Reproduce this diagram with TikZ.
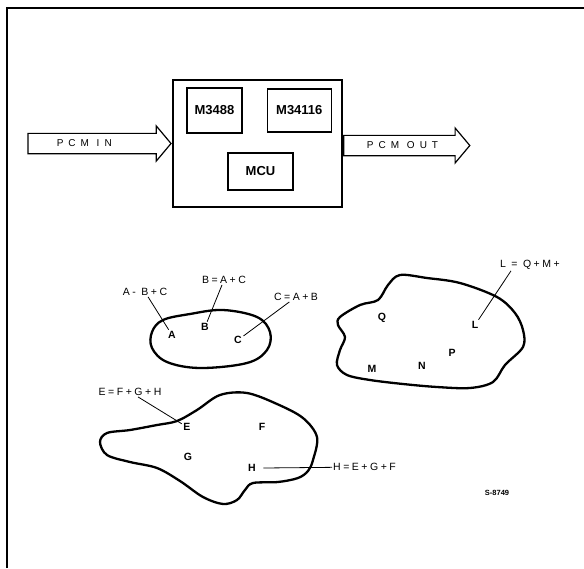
\documentclass[tikz,border=0pt]{standalone}
\usepackage{fontspec}
\setmainfont{Liberation Sans}
\usetikzlibrary{positioning,shapes.arrows}

\newcommand\spaced[1]{\addfontfeature{LetterSpace=#1}}

\tikzset{
    chip/.style={draw, line width=1.3pt, inner sep=0pt,
        font=\bfseries\fontsize{13}{13}\selectfont},
    pcmarrow/.style={draw, line width=1.2pt, single arrow,
        single arrow head extend=3pt, single arrow tip angle=100,
        minimum width=35pt, inner sep=0pt,
        font=\fontsize{10}{10}\selectfont\spaced{50}},
    blob/.style={line width=2.3pt, line join=round},
    setlabel/.style={inner sep=1pt, font=\fontsize{10.5}{10.5}\selectfont\spaced{24}},
    member/.style={inner sep=1.5pt, font=\bfseries\fontsize{10.5}{10.5}\selectfont},
    leader/.style={line width=0.8pt},
}

\begin{document}
\begin{tikzpicture}[x=1pt, y=-1pt]
    \useasboundingbox (0,0) rectangle (584,568);

    % frame
    \draw[line width=2pt] (7,568) -- (7,8) -- (584,8);

    % codec board
    \node[draw, line width=2.4pt, minimum width=169pt, minimum height=127pt] (dsp) at (257.5,143.5) {};
    \node[chip, minimum width=55pt, minimum height=45pt] (m3488) at (214.5,110.5) {M3488};
    \node[chip, minimum width=64pt, minimum height=43pt, right=24pt of m3488.east, anchor=west] (m34116) {M34116};
    \node[chip, minimum width=65pt, minimum height=37pt] (mcu) at (260.5,171.5) {MCU};

    \node[pcmarrow, minimum height=143pt, anchor=tip] (pcmin) at (dsp.west) {PCM IN\hspace*{22pt}};
    \node[pcmarrow, minimum height=126pt, anchor=tail] (pcmout) at ([yshift=-2pt]dsp.east) {PCM OUT};

    % set A B C
    \draw[blob] plot[smooth cycle, tension=0.6] coordinates {
        (152,332) (163,320) (190,314) (223,310) (257,317) (270,332)
        (267,350) (247,363) (200,368) (167,362) (152,348)};
    \node[member] (A) at (172,335) {A};
    \node[member] (B) at (205,327) {B};
    \node[member] (C) at (238,340) {C};
    \node[setlabel] (lA) at (145,292) {A- B+C};
    \node[setlabel] (lB) at (224,280) {B=A+C};
    \node[setlabel] (lC) at (296,297) {C=A+B};
    \draw[leader] (lA) -- (A);
    \draw[leader] (lB) -- (B);
    \draw[leader] (lC) -- (C);

    % set L M N P Q
    \draw[blob] plot[smooth cycle, tension=0.55] coordinates {
        (340,317) (360,305) (378,300) (388,285) (400,275) (427,278)
        (460,283) (497,297) (515,313) (523,330) (523,347) (505,365)
        (493,382) (470,388) (437,387) (403,384) (370,380) (347,375)
        (337,365) (340,350) (345,337) (338,325)};
    \node[member] (Q) at (382,318) {Q};
    \node[member] (L) at (475,325) {L};
    \node[member] (P) at (452,353) {P};
    \node[member] (N) at (422,366) {N};
    \node[member] (M) at (372,369) {M};
    \node[setlabel] (lL) at (530,265) {L = Q+M+};
    \draw[leader] ([xshift=12pt]lL.south west) -- (L);

    % set E F G H
    \draw[blob] plot[smooth cycle, tension=0.55] coordinates {
        (100,442) (107,433) (130,430) (157,425) (177,421) (197,410)
        (220,395) (247,393) (277,404) (303,418) (317,437) (313,460)
        (308,471) (298,478) (278,482) (253,483) (245,490) (237,500)
        (223,504) (203,497) (180,481) (157,468) (130,462) (107,455)};
    \node[member] (E) at (187,427) {E};
    \node[member] (F) at (262,427) {F};
    \node[member] (G) at (188,457) {G};
    \node[member] (H) at (252,468) {H};
    \node[setlabel] (lE) at (130,392) {E=F+G+H};
    \node[setlabel, anchor=west] (lH) at (332,467) {H=E+G+F};
    \draw[leader] (lE) -- (E);
    \draw[leader] ([xshift=6pt]H.east) -- (lH);

    \node[font=\bfseries\fontsize{7.5}{7.5}\selectfont] (fig) at (497,493) {S-8749};
\end{tikzpicture}
\end{document}
